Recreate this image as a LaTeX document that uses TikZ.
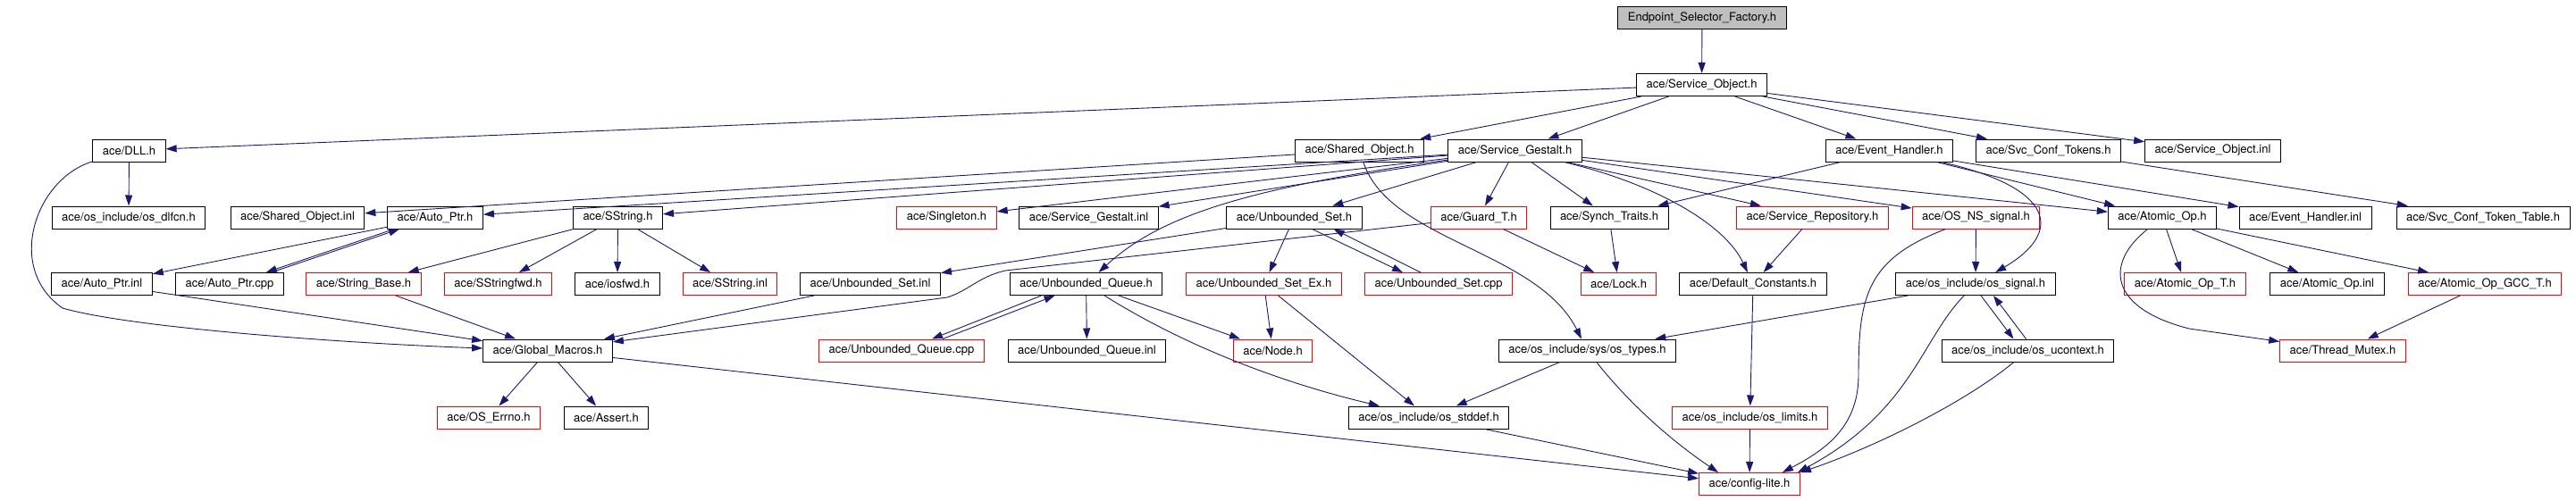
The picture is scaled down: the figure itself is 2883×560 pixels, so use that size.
\documentclass[tikz,border=0pt]{standalone}
\usepackage{fontspec}
\setmainfont{TeX Gyre Heros}
\usetikzlibrary{arrows.meta}
\definecolor{edgeblue}{HTML}{191970}
\definecolor{truncred}{HTML}{FF0000}
\definecolor{rootgray}{HTML}{BFBFBF}
\tikzset{
  file/.style={draw=black, line width=1pt, font=\fontsize{13}{15}\selectfont,
    inner xsep=11pt, inner ysep=0pt, minimum height=25pt},
  trunc/.style={file, draw=truncred},
  root/.style={file, fill=rootgray},
  dep/.style={draw=edgeblue, line width=0.9pt, -{Triangle[length=12pt,width=8pt]}},
}
\begin{document}
\begin{tikzpicture}[x=1pt,y=-1pt]
      \useasboundingbox (0,0) rectangle (2883,560);
      % Root and first include
      \node[root] (esf) at (1905,20) {Endpoint\_Selector\_Factory.h};
      \node[file] (so_h) at (1904.5,95) {ace/Service\_Object.h};
      % Second row
      \node[file] (dll) at (144.5,168.5) {ace/DLL.h};
      \node[file] (sho_h) at (1521.5,168.5) {ace/Shared\_Object.h};
      \node[file] (sg_h) at (1695.5,168.5) {ace/Service\_Gestalt.h};
      \node[file] (eh_h) at (2114.5,168.5) {ace/Event\_Handler.h};
      \node[file] (sct_h) at (2292.5,168.5) {ace/Svc\_Conf\_Tokens.h};
      \node[file] (so_inl) at (2476.5,168.5) {ace/Service\_Object.inl};
      % Third row
      \node[file] (dlfcn) at (144,243.5) {ace/os\_include/os\_dlfcn.h};
      \node[file] (sho_inl) at (333,243.5) {ace/Shared\_Object.inl};
      \node[file] (ap_h) at (487,243.5) {ace/Auto\_Ptr.h};
      \node[file] (ss_h) at (691.5,243.5) {ace/SString.h};
      \node[trunc] (singleton) at (1059.5,243.5) {ace/Singleton.h};
      \node[file] (sg_inl) at (1218.5,243.5) {ace/Service\_Gestalt.inl};
      \node[file] (us_h) at (1448.5,243.5) {ace/Unbounded\_Set.h};
      \node[trunc] (guard) at (1655,243.5) {ace/Guard\_T.h};
      \node[file] (synch) at (1801,243.5) {ace/Synch\_Traits.h};
      \node[trunc] (srep) at (2028.5,243.5) {ace/Service\_Repository.h};
      \node[trunc] (nssig) at (2211.5,243.5) {ace/OS\_NS\_signal.h};
      \node[file] (aop_h) at (2420,243.5) {ace/Atomic\_Op.h};
      \node[file] (eh_inl) at (2580,243.5) {ace/Event\_Handler.inl};
      \node[file] (sctt) at (2779,243.5) {ace/Svc\_Conf\_Token\_Table.h};
      % Fourth row
      \node[file] (ap_inl) at (114,318) {ace/Auto\_Ptr.inl};
      \node[file] (ap_cpp) at (257,318) {ace/Auto\_Ptr.cpp};
      \node[trunc] (strbase) at (407,318) {ace/String\_Base.h};
      \node[trunc] (ssfwd) at (557.5,318) {ace/SStringfwd.h};
      \node[file] (iosfwd) at (691,318) {ace/iosfwd.h};
      \node[trunc] (ss_inl) at (817,318) {ace/SString.inl};
      \node[file] (us_inl) at (974,318) {ace/Unbounded\_Set.inl};
      \node[file] (uq_h) at (1215.5,318) {ace/Unbounded\_Queue.h};
      \node[trunc] (usex) at (1414.5,318) {ace/Unbounded\_Set\_Ex.h};
      \node[trunc] (us_cpp) at (1610,318) {ace/Unbounded\_Set.cpp};
      \node[trunc] (lock) at (1811.5,318) {ace/Lock.h};
      \node[file] (defc) at (1962,318) {ace/Default\_Constants.h};
      \node[file] (ossig) at (2211,318) {ace/os\_include/os\_signal.h};
      \node[trunc] (aopt) at (2445.5,318) {ace/Atomic\_Op\_T.h};
      \node[file] (aop_inl) at (2604.5,318) {ace/Atomic\_Op.inl};
      \node[trunc] (gcc) at (2781,318) {ace/Atomic\_Op\_GCC\_T.h};
      % Fifth row
      \node[file] (gm) at (613,392.5) {ace/Global\_Macros.h};
      \node[trunc] (uq_cpp) at (1009,392.5) {ace/Unbounded\_Queue.cpp};
      \node[file] (uq_inl) at (1216.5,392.5) {ace/Unbounded\_Queue.inl};
      \node[trunc] (nodeh) at (1424.5,392.5) {ace/Node.h};
      \node[file] (types) at (1776.5,392.5) {ace/os\_include/sys/os\_types.h};
      \node[file] (uctx) at (2269.5,392.5) {ace/os\_include/os\_ucontext.h};
      \node[trunc] (tmutex) at (2622,392.5) {ace/Thread\_Mutex.h};
      % Sixth and last rows
      \node[trunc] (errno) at (547,467.5) {ace/OS\_Errno.h};
      \node[file] (assert) at (678.5,467.5) {ace/Assert.h};
      \node[file] (stddef) at (1599,467.5) {ace/os\_include/os\_stddef.h};
      \node[trunc] (limits) at (1958.5,467.5) {ace/os\_include/os\_limits.h};
      \node[trunc] (cfg) at (1958,542) {ace/config-lite.h};

      % Service_Object.h and above
      \draw[dep] (esf) -- (so_h);
      \draw[dep] (so_h) -- (dll);
      \draw[dep] (so_h) -- (sho_h);
      \draw[dep] (so_h) -- (sg_h);
      \draw[dep] (so_h) -- (eh_h);
      \draw[dep] (so_h) -- (sct_h);
      \draw[dep] (so_h) -- (so_inl);
      % DLL.h
      \draw[dep] (dll) -- (dlfcn);
      \draw[dep] (dll) .. controls (40,200) and (5,300) .. (70,345)
        .. controls (150,368) and (400,385) .. (gm);
      % Shared_Object.h
      \draw[dep] (sho_h) -- (sho_inl);
      \draw[dep] (sho_h) .. controls (1555,270) and (1720,280) .. (types);
      % Service_Gestalt.h
      \foreach \t in {ap_h,ss_h,singleton,sg_inl,us_h,guard,synch,srep,nssig,aop_h}{
        \draw[dep] (sg_h) -- (\t);
      }
      \draw[dep] (sg_h) .. controls (1400,210) and (1300,240) .. (uq_h);
      \draw[dep] (sg_h) .. controls (1850,205) and (1930,250) .. (defc);
      % Event_Handler.h and Svc_Conf_Tokens.h
      \draw[dep] (eh_h) -- (synch);
      \draw[dep] (eh_h) -- (aop_h);
      \draw[dep] (eh_h) -- (eh_inl);
      \draw[dep] (eh_h) .. controls (2300,210) and (2310,260) .. (ossig);
      \draw[dep] (sct_h) -- (sctt);
      % Auto_Ptr and SString
      \draw[dep] (ap_h) -- (ap_inl);
      \draw[dep] ([xshift=8pt]ap_h.south west) -- ([xshift=-20pt]ap_cpp.north east);
      \draw[dep] ([xshift=-14pt]ap_cpp.north east) -- ([xshift=14pt]ap_h.south west);
      \foreach \t in {strbase,ssfwd,iosfwd,ss_inl}{
        \draw[dep] (ss_h) -- (\t);
      }
      % Unbounded_Set.h
      \draw[dep] (us_h) -- (us_inl);
      \draw[dep] (us_h) -- (usex);
      \draw[dep] ([xshift=20pt]us_h.south) -- ([xshift=-40pt]us_cpp.north);
      \draw[dep] ([xshift=-20pt]us_cpp.north) -- ([xshift=44pt]us_h.south);
      % Guard_T.h, Synch_Traits.h, Service_Repository.h
      \draw[dep] (guard) -- (lock);
      \draw[dep] (guard) -- (1125,303) .. controls (1095,310) and (1085,325) .. (1060,333) -- (gm);
      \draw[dep] (synch) -- (lock);
      \draw[dep] (srep) -- (defc);
      % OS_NS_signal.h
      \draw[dep] (nssig) -- (ossig);
      \draw[dep] (nssig) .. controls (2090,290) and (2080,330) .. (2080,420)
        .. controls (2080,480) and (2040,505) .. ([xshift=-20pt]cfg.north east);
      % Atomic_Op.h
      \draw[dep] (aop_h) -- (aopt);
      \draw[dep] (aop_h) -- (aop_inl);
      \draw[dep] (aop_h) -- (gcc);
      \draw[dep] (aop_h) .. controls (2355,295) and (2360,345) .. (2450,368) -- (tmutex);
      \draw[dep] (gcc) -- (tmutex);
      % fourth row into Global_Macros.h
      \draw[dep] (ap_inl) -- (gm);
      \draw[dep] (strbase) -- (gm);
      \draw[dep] (us_inl) -- (gm);
      % Unbounded_Queue.h
      \draw[dep] (uq_h) -- (uq_inl);
      \draw[dep] ([xshift=-50pt]uq_h.south) -- ([xshift=34pt]uq_cpp.north);
      \draw[dep] ([xshift=46pt]uq_cpp.north) -- ([xshift=-35pt]uq_h.south);
      \draw[dep] (uq_h) -- (nodeh);
      \draw[dep] (uq_h) .. controls (1330,390) and (1440,430) .. (stddef);
      \draw[dep] (usex) -- (nodeh);
      \draw[dep] (usex) -- (stddef);
      % Default_Constants.h and os_signal.h
      \draw[dep] (defc) -- (limits);
      \draw[dep] (ossig) -- (types);
      \draw[dep] ([xshift=6pt]ossig.south) -- ([xshift=-16pt]uctx.north);
      \draw[dep] ([xshift=-2pt]uctx.north) -- ([xshift=20pt]ossig.south);
      \draw[dep] (ossig) .. controls (2150,380) and (2140,460) .. ([xshift=-3pt]cfg.north east);
      \draw[dep] (uctx) .. controls (2200,450) and (2100,500) .. (cfg.north east);
      % Global_Macros.h
      \draw[dep] (gm) -- (errno);
      \draw[dep] (gm) -- (assert);
      \draw[dep] (gm) -- (cfg);
      % os_types.h, os_stddef.h, os_limits.h
      \draw[dep] (types) -- (stddef);
      \draw[dep] (types) .. controls (1830,460) and (1880,500) .. ([xshift=22pt]cfg.north west);
      \draw[dep] (stddef) -- (cfg);
      \draw[dep] (limits) -- (cfg);
\end{tikzpicture}
\end{document}
